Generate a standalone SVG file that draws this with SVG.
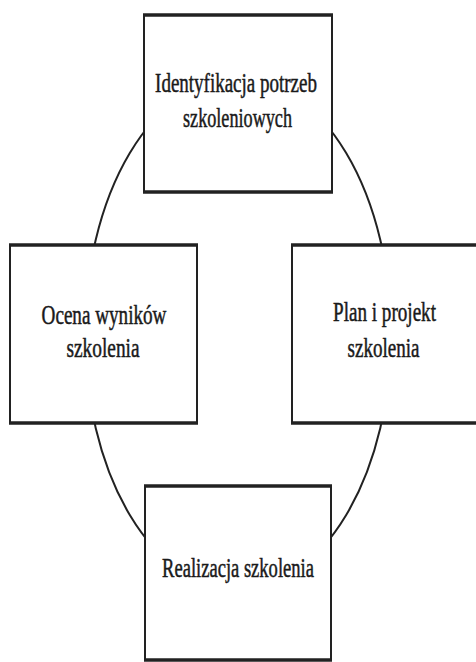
<svg xmlns="http://www.w3.org/2000/svg" width="476" height="662" viewBox="0 0 476 662">
<style>
.box{fill:#fff;stroke:#222;stroke-width:2}
.fill{fill:#fff;stroke:none}
.side{stroke:#222;stroke-width:2;fill:none}
.edge{stroke:#222;stroke-width:3.5;fill:none}
.conn{fill:none;stroke:#222;stroke-width:2}
text{font-family:"Liberation Serif","Times New Roman",serif;font-size:27px;fill:#1a1a1a;stroke:#1a1a1a;stroke-width:0.5;text-anchor:middle}
</style>
<rect width="476" height="662" fill="#fff"/>
<g id="connectors">
<ellipse class="conn" cx="238" cy="334" rx="153" ry="256"/>
</g>
<g id="node-identyfikacja">
<rect class="box" x="144" y="15" width="188" height="177"/>
<line class="edge" x1="143" y1="15" x2="333" y2="15"/>
<line class="edge" x1="143" y1="192" x2="333" y2="192"/>
<text transform="translate(236,92) scale(0.704,1)">Identyfikacja potrzeb</text>
<text transform="translate(237.5,127) scale(0.673,1)">szkoleniowych</text>
</g>
<g id="node-ocena">
<rect class="box" x="10" y="245" width="187" height="178"/>
<line class="edge" x1="9" y1="245" x2="198" y2="245"/>
<line class="edge" x1="9" y1="423" x2="198" y2="423"/>
<text transform="translate(104,324) scale(0.709,1)">Ocena wyników</text>
<text transform="translate(103,357) scale(0.716,1)">szkolenia</text>
</g>
<g id="node-plan">
<rect class="fill" x="292" y="245" width="184" height="178"/>
<line class="side" x1="292" y1="245" x2="292" y2="423"/>
<line class="edge" x1="291" y1="245" x2="476" y2="245"/>
<line class="edge" x1="291" y1="423" x2="476" y2="423"/>
<text transform="translate(384.5,321) scale(0.708,1)">Plan i projekt</text>
<text transform="translate(383.5,357) scale(0.706,1)">szkolenia</text>
</g>
<g id="node-realizacja">
<rect class="box" x="145" y="486" width="186" height="174"/>
<line class="edge" x1="144" y1="486" x2="332" y2="486"/>
<line class="edge" x1="144" y1="660" x2="332" y2="660"/>
<text transform="translate(238,577) scale(0.687,1)">Realizacja szkolenia</text>
</g>
</svg>
